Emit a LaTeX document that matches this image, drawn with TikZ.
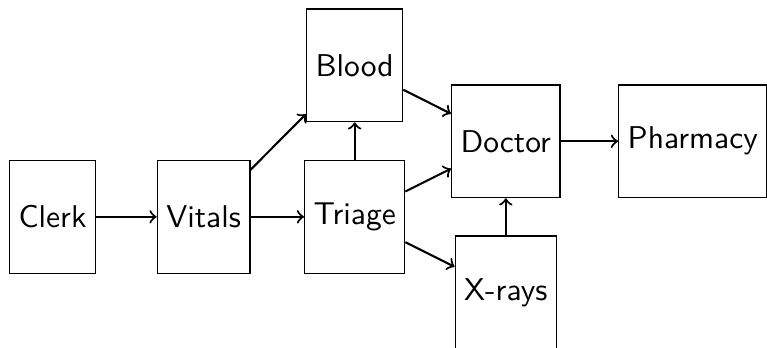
\documentclass[tikz,border=0pt]{standalone}
\usepackage{tikz}

\begin{document}
\begin{tikzpicture}[box/.style = {draw, font = \sffamily\fontsize{10.5pt}{12pt}\selectfont, minimum height = 1.32cm, inner xsep = 3pt},
  flow/.style = {draw, line width = 0.7pt, ->}]
\useasboundingbox (-0.615,-1.525) rectangle (8.37,2.54);
\path (0,0) node [box] (clerk) {Clerk};
\path (1.77,0) node [box] (vitals) {Vitals};
\path (3.54,0) node [box] (triage) {Triage};
\path (3.54,1.775) node [box] (blood) {Blood};
\path (5.31,0.885) node [box] (doctor) {Doctor};
\path (5.31,-0.885) node [box] (xrays) {X-rays};
\path (7.5,0.885) node [box] (pharmacy) {Pharmacy};
\path [flow] (clerk) -- (vitals);
\path [flow] (vitals) -- (triage);
\path [flow] (vitals) -- (blood);
\path [flow] (triage) -- (blood);
\path [flow] (blood) -- (doctor);
\path [flow] (triage) -- (doctor);
\path [flow] (triage) -- (xrays);
\path [flow] (xrays) -- (doctor);
\path [flow] (doctor) -- (pharmacy);
\end{tikzpicture}
\end{document}
